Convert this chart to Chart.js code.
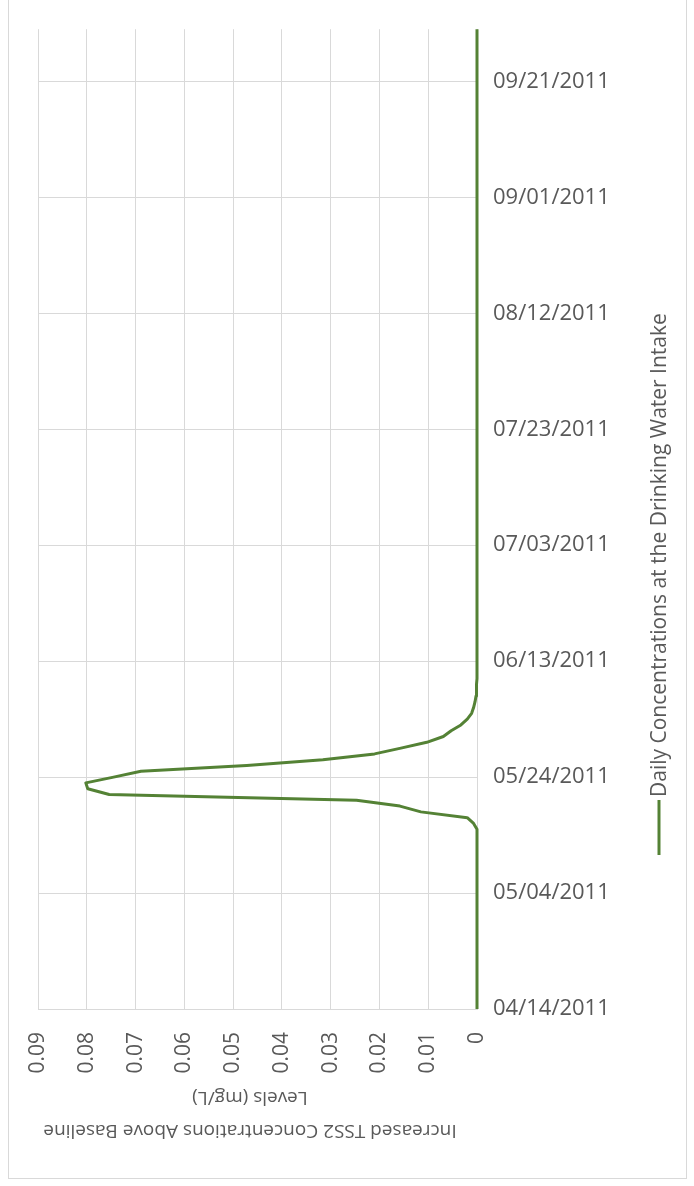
<!DOCTYPE html>
<html>
<head>
<meta charset="utf-8">
<script src="https://cdn.jsdelivr.net/npm/chart.js@4.4.0/dist/chart.umd.min.js"></script>
<style>
  html, body { margin: 0; padding: 0; background: #fff; }
  #wrap { position: relative; width: 694px; height: 1186px; }
  #moldura { position: absolute; left: 8px; top: -1px; width: 679px; height: 1180px; border: 1px solid #d9d9d9; box-sizing: border-box; }
  #grafico { position: absolute; left: 0; top: 0; }
</style>
</head>
<body>
<div id="wrap">
  <div id="moldura"></div>
  <canvas id="grafico" width="694" height="1186"></canvas>
</div>
<script>
const dataInicial = '2011-04-14';
const rotuloSerie = 'Daily Concentrations at the Drinking Water Intake';
const tituloEixo = ['Increased TSS2 Concentrations Above Baseline', 'Levels (mg/L)'];

// daily values, 04/14/2011 .. 09/30/2011
const concentracoes = [
    0, 0, 0, 0, 0, 0, 0, 0, 0, 0,
    0, 0, 0, 0, 0, 0, 0, 0, 0, 0,
    0, 0, 0, 0, 0, 0, 0, 0, 0, 0,
    0, 0, 0.0007, 0.002, 0.0115, 0.0158, 0.0247, 0.0754, 0.0798, 0.0802,
    0.0745, 0.0689, 0.0472, 0.0316, 0.021, 0.0156, 0.0103, 0.0069, 0.0053, 0.0033,
    0.002, 0.0011, 0.0007, 0.0004, 0.0002, 0.0001, 0.0001, 0, 0, 0,
    0, 0, 0, 0, 0, 0, 0, 0, 0, 0,
    0, 0, 0, 0, 0, 0, 0, 0, 0, 0,
    0, 0, 0, 0, 0, 0, 0, 0, 0, 0,
    0, 0, 0, 0, 0, 0, 0, 0, 0, 0,
    0, 0, 0, 0, 0, 0, 0, 0, 0, 0,
    0, 0, 0, 0, 0, 0, 0, 0, 0, 0,
    0, 0, 0, 0, 0, 0, 0, 0, 0, 0,
    0, 0, 0, 0, 0, 0, 0, 0, 0, 0,
    0, 0, 0, 0, 0, 0, 0, 0, 0, 0,
    0, 0, 0, 0, 0, 0, 0, 0, 0, 0,
    0, 0, 0, 0, 0, 0, 0, 0, 0, 0
];

const passoDatas = 20;
const eixoValores = { min: 0, max: 0.09, passo: 0.01 };

const corTexto = '#595959';
const corGrade = '#d9d9d9';
const corLinha = '#548235';
const fonte = "'Open Sans', 'Noto Sans', sans-serif";

function formatarData(d) {
    const mm = String(d.getUTCMonth() + 1).padStart(2, '0');
    const dd = String(d.getUTCDate()).padStart(2, '0');
    return mm + '/' + dd + '/' + d.getUTCFullYear();
}

const datas = concentracoes.map(function (v, i) {
    const d = new Date(dataInicial + 'T00:00:00Z');
    d.setUTCDate(d.getUTCDate() + i);
    return formatarData(d);
});

// title of the value axis, upside down under the ticks
const pluginTitulo = {
    id: 'tituloEixo',
    afterDraw(chart) {
        const ctx = chart.ctx;
        ctx.save();
        ctx.translate(250, 1113);
        ctx.rotate(Math.PI);
        ctx.fillStyle = corTexto;
        ctx.font = '19px ' + fonte;
        ctx.textAlign = 'center';
        ctx.textBaseline = 'middle';
        ctx.fillText(tituloEixo[0], 0, -17);
        ctx.fillText(tituloEixo[1], 0, 16);
        ctx.restore();
    }
};

// legend drawn on its side, reading upward
const pluginLegenda = {
    id: 'legendaLateral',
    afterDraw(chart) {
        const ctx = chart.ctx;
        const ds = chart.data.datasets[0];
        ctx.save();
        ctx.strokeStyle = ds.borderColor;
        ctx.lineWidth = 3;
        ctx.beginPath();
        ctx.moveTo(659, 855);
        ctx.lineTo(659, 800);
        ctx.stroke();
        ctx.translate(659, 797);
        ctx.rotate(-Math.PI / 2);
        ctx.fillStyle = corTexto;
        ctx.font = '21px ' + fonte;
        ctx.textAlign = 'left';
        ctx.textBaseline = 'middle';
        ctx.fillText(ds.label, 0, 1);
        ctx.restore();
    }
};

new Chart(document.getElementById('grafico'), {
    type: 'line',
    data: {
        labels: datas,
        datasets: [{
            label: rotuloSerie,
            data: concentracoes,
            borderColor: corLinha,
            backgroundColor: corLinha,
            borderWidth: 3,
            borderJoinStyle: 'round',
            pointRadius: 0,
            tension: 0,
            clip: false
        }]
    },
    options: {
        indexAxis: 'y',
        responsive: false,
        animation: false,
        layout: { padding: { left: 38, top: 21, right: 77, bottom: 105 } },
        plugins: {
            legend: { display: false },
            tooltip: { enabled: false }
        },
        scales: {
            y: {
                type: 'category',
                position: 'right',
                reverse: true,
                offset: false,
                afterFit(s) { s.width = 140; },
                border: { display: true, color: corGrade },
                grid: { color: corGrade, drawTicks: false },
                ticks: {
                    autoSkip: false,
                    padding: 16,
                    color: corTexto,
                    font: { family: fonte, size: 22 },
                    callback(v, i) { return i % passoDatas === 0 ? datas[i] : null; }
                }
            },
            x: {
                type: 'linear',
                position: 'bottom',
                reverse: true,
                min: eixoValores.min,
                max: eixoValores.max,
                afterFit(s) { s.height = 72; },
                border: { display: false },
                grid: { color: corGrade, drawTicks: false },
                ticks: {
                    stepSize: eixoValores.passo,
                    minRotation: 90,
                    maxRotation: 90,
                    padding: 23,
                    color: corTexto,
                    font: { family: fonte, size: 21 }
                }
            }
        }
    },
    plugins: [pluginTitulo, pluginLegenda]
});
</script>
</body>
</html>
